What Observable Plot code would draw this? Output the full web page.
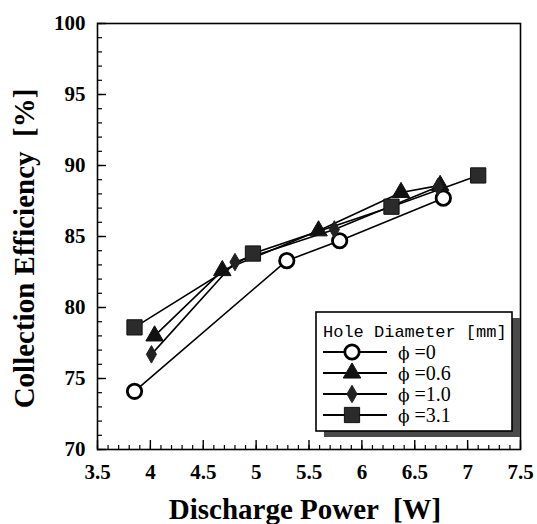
<!DOCTYPE html>
<html><head><meta charset="utf-8">
<script src="https://cdn.jsdelivr.net/npm/d3@7"></script>
<script src="https://cdn.jsdelivr.net/npm/@observablehq/plot@0.6"></script>
<style>body{margin:0;background:#fff}</style>
</head><body><div id="chart"></div>
<script>
const seriesNames = ["ϕ =0", "ϕ =0.6", "ϕ =1.0", "ϕ =3.1"];
const power0 = [3.85, 5.29, 5.79, 6.77];
const eff0 = [74.1, 83.3, 84.7, 87.7];
const power06 = [4.04, 4.68, 5.59, 6.37, 6.74];
const eff06 = [78.0, 82.6, 85.4, 88.1, 88.6];
const power10 = [4.01, 4.80, 5.74, 6.72];
const eff10 = [76.7, 83.2, 85.5, 88.5];
const power31 = [3.85, 4.97, 6.28, 7.10];
const eff31 = [78.6, 83.8, 87.1, 89.3];
const xMajor = [3.5, 4, 4.5, 5, 5.5, 6, 6.5, 7, 7.5];
const yMajor = [70, 75, 80, 85, 90, 95, 100];
const xLabel = "Discharge Power \u00a0[W]";
const yLabel = "Collection Efficiency \u00a0[%]";
const legendTitle = "Hole Diameter [mm]";

const xMinor = d3.range(35, 76, 1).map(d => d / 10);
const yMinor = d3.range(70, 101, 1);

const mk = (xs, ys, s) => xs.map((x, i) => ({x, y: ys[i], s}));
const s0 = mk(power0, eff0, seriesNames[0]);
const s06 = mk(power06, eff06, seriesNames[1]);
const s10 = mk(power10, eff10, seriesNames[2]);
const s31 = mk(power31, eff31, seriesNames[3]);
const all = [...s0, ...s06, ...s10, ...s31];

const styles = [
  {symbol: "circle", fill: "white", stroke: "black", strokeWidth: 2.8, r: 7.2},
  {symbol: "triangle", fill: "#111", stroke: "#111", strokeWidth: 1, r: 6.5},
  {symbol: "diamond", fill: "#222", stroke: "#222", strokeWidth: 1, r: 5.3},
  {symbol: "square", fill: "#2b2b2b", stroke: "#111", strokeWidth: 1, r: 8.6}
];
const sets = [s0, s06, s10, s31];

const font = "'Liberation Serif', 'Times New Roman', serif";
const chart = Plot.plot({
  width: 537, height: 524,
  marginLeft: 97, marginRight: 17, marginTop: 23, marginBottom: 75,
  style: {fontFamily: font, background: "white", color: "black"},
  x: {domain: [3.5, 7.5]},
  y: {domain: [70, 100]},
  marks: [
    Plot.axisX(xMinor, {tickSize: -4, tickFormat: () => "", label: null, strokeWidth: 1.2}),
    Plot.axisX(xMajor, {tickSize: -9, tickPadding: 24, tickFormat: d => String(d), label: null, fontSize: 21, fontWeight: "bold", strokeWidth: 1.4}),
    Plot.axisY(yMinor, {tickSize: -5, tickFormat: () => "", label: null, strokeWidth: 1.2}),
    Plot.axisY(yMajor, {tickSize: -9, tickPadding: 21, tickFormat: d => String(d), label: null, fontSize: 21, fontWeight: "bold", strokeWidth: 1.4}),
    Plot.frame({stroke: "black", strokeWidth: 1.6}),
    Plot.line(all, {x: "x", y: "y", z: "s", stroke: "black", strokeWidth: 1.6}),
    ...sets.map((s, i) => Plot.dot(s, {x: "x", y: "y", ...styles[i]})),
    Plot.text([xLabel], {text: d => d, frameAnchor: "bottom", textAnchor: "middle", dx: -4, dy: 69, fontSize: 29, fontWeight: "bold", lineAnchor: "bottom"}),
    Plot.text([yLabel], {text: d => d, frameAnchor: "left", textAnchor: "middle", lineAnchor: "middle", dx: -73, dy: 12, rotate: -90, fontSize: 29, fontWeight: "bold"})
  ]
});

// Legend
const svg = d3.select(chart);
const lg = svg.append("g").attr("text-anchor", "start");
const L = {x: 316, y: 312, w: 196, h: 119};
lg.append("rect").attr("x", L.x + 8).attr("y", L.y + 6).attr("width", L.w).attr("height", L.h).attr("fill", "#4a4a4a");
lg.append("rect").attr("x", L.x).attr("y", L.y).attr("width", L.w).attr("height", L.h).attr("fill", "white").attr("stroke", "black").attr("stroke-width", 1.6);
lg.append("text").attr("x", L.x + 7).attr("y", L.y + 25).attr("text-anchor", "start")
  .style("font-family", "'Liberation Mono', monospace").style("font-size", "17px").text(legendTitle);
seriesNames.forEach((name, i) => {
  const cy = L.y + 40 + i * 21;
  lg.append("line").attr("x1", L.x + 7).attr("x2", L.x + 71).attr("y1", cy).attr("y2", cy).attr("stroke", "black").attr("stroke-width", 2);
  const st = styles[i];
  const sym = {circle: d3.symbolCircle, triangle: d3.symbolTriangle, diamond: d3.symbolDiamond, square: d3.symbolSquare}[st.symbol];
  lg.append("path").attr("transform", `translate(${L.x + 36},${cy})`)
    .attr("d", d3.symbol(sym, Math.PI * st.r * st.r)())
    .attr("fill", st.fill).attr("stroke", st.stroke).attr("stroke-width", st.strokeWidth);
  const t = lg.append("text").attr("x", L.x + 82).attr("y", cy + 7).attr("text-anchor", "start")
    .style("font-family", "'Liberation Serif', serif").style("font-size", "20px");
  t.append("tspan").style("font-family", "'DejaVu Serif', serif").style("font-size", "17px").text(name.slice(0, 1));
  t.append("tspan").text(name.slice(1));
});

document.getElementById("chart").appendChild(chart);
</script>
</body></html>
